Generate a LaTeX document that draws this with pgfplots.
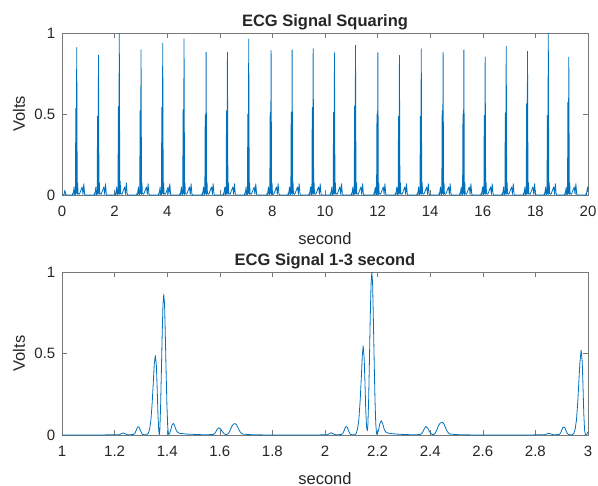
\documentclass[border=0pt]{standalone}
\usepackage{fontspec}
\setmainfont{Liberation Sans}
\usepackage{pgfplots}
\pgfplotsset{compat=1.18}
\definecolor{mblue}{RGB}{0,114,189}
\definecolor{axgray}{RGB}{120,120,120}
\definecolor{txt}{RGB}{38,38,38}
\pgfplotsset{
  myax/.style={
    scale only axis, width=526bp,
    axis line style={axgray, line width=0.6bp},
    tick style={axgray, line width=0.6bp},
    tick align=inside, major tick length=5bp,
    /pgf/number format/assume math mode=true,
    ticklabel style={font=\fontsize{15bp}{18bp}\selectfont, text=txt},
    xticklabel style={anchor=north, inner sep=0pt, yshift=-11bp},
    yticklabel style={anchor=east, inner sep=0pt, xshift=-6.5bp},
    ymin=0, ymax=1, ytick={0,0.5,1}, yticklabels={0,0.5,1},
    ylabel={Volts}, xlabel={second},
    every axis y label/.style={at={(axis description cs:-0.0818,0.5)}, rotate=90, anchor=center, inner sep=0pt, font=\fontsize{16.5bp}{19bp}\selectfont, text=txt},
    every axis x label/.style={at={(axis description cs:0.5,0)}, anchor=base, inner sep=0pt, yshift=-49bp, font=\fontsize{16.5bp}{19bp}\selectfont, text=txt},
    every axis title/.style={at={(axis description cs:0.5,1)}, anchor=base, inner sep=0pt, yshift=6.5bp, font=\fontsize{16.5bp}{19bp}\selectfont\bfseries, text=txt},
  },
  sig/.style={color=mblue, line width=0.8bp, no markers, line join=round},
}
\begin{document}
\begin{tikzpicture}
\begin{axis}[myax, height=162bp, at={(0,0)}, anchor=north west,
  title={ECG Signal Squaring},
  xmin=0, xmax=20, xtick={0,2,4,6,8,10,12,14,16,18,20},
  xticklabels={0,2,4,6,8,10,12,14,16,18,20}]
\addplot[sig] coordinates {
(0,0) (0.08,0.003) (0.11,0.03) (0.14,0.003) (0.2,0)
(0.400,0) (0.407,0.012) (0.420,0.001) (0.462,0.05) (0.480,0.002) (0.510,0.003) (0.525,0.536) (0.540,0.01) (0.560,0.91) (0.580,0.003) (0.596,0.075) (0.610,0.01) (0.660,0.004) (0.766,0.05) (0.797,0.004) (0.828,0.07) (0.860,0.005) (0.890,0)
(1.227,0) (1.234,0.012) (1.247,0.001) (1.289,0.05) (1.307,0.002) (1.337,0.003) (1.352,0.487) (1.367,0.01) (1.387,0.863) (1.407,0.003) (1.423,0.075) (1.437,0.01) (1.487,0.004) (1.593,0.05) (1.624,0.004) (1.655,0.07) (1.687,0.005) (1.717,0)
(2.018,0) (2.025,0.012) (2.038,0.001) (2.080,0.05) (2.098,0.002) (2.128,0.003) (2.143,0.546) (2.158,0.01) (2.178,1.0) (2.198,0.003) (2.214,0.085) (2.228,0.01) (2.278,0.004) (2.384,0.05) (2.415,0.004) (2.446,0.075) (2.478,0.005) (2.508,0)
(2.845,0) (2.852,0.012) (2.865,0.001) (2.907,0.05) (2.925,0.002) (2.955,0.003) (2.970,0.52) (2.985,0.01) (3.005,0.897) (3.025,0.003) (3.041,0.075) (3.055,0.01) (3.105,0.004) (3.211,0.05) (3.242,0.004) (3.273,0.07) (3.305,0.005) (3.335,0)
(3.670,0) (3.677,0.012) (3.690,0.001) (3.732,0.05) (3.750,0.002) (3.780,0.003) (3.795,0.542) (3.810,0.01) (3.830,0.938) (3.850,0.003) (3.866,0.075) (3.880,0.01) (3.930,0.004) (4.036,0.05) (4.067,0.004) (4.098,0.07) (4.130,0.005) (4.160,0)
(4.480,0) (4.487,0.012) (4.500,0.001) (4.542,0.05) (4.560,0.002) (4.590,0.003) (4.605,0.526) (4.620,0.01) (4.640,0.963) (4.660,0.003) (4.676,0.075) (4.690,0.01) (4.740,0.004) (4.846,0.05) (4.877,0.004) (4.908,0.07) (4.940,0.005) (4.970,0)
(5.320,0) (5.327,0.012) (5.340,0.001) (5.382,0.05) (5.400,0.002) (5.430,0.003) (5.445,0.49) (5.460,0.01) (5.480,0.882) (5.500,0.003) (5.516,0.075) (5.530,0.01) (5.580,0.004) (5.686,0.05) (5.717,0.004) (5.748,0.07) (5.780,0.005) (5.810,0)
(6.130,0) (6.137,0.012) (6.150,0.001) (6.192,0.05) (6.210,0.002) (6.240,0.003) (6.255,0.52) (6.270,0.01) (6.290,0.882) (6.310,0.003) (6.326,0.075) (6.340,0.01) (6.390,0.004) (6.496,0.05) (6.527,0.004) (6.558,0.07) (6.590,0.005) (6.620,0)
(6.940,0) (6.947,0.012) (6.960,0.001) (7.002,0.05) (7.020,0.002) (7.050,0.003) (7.065,0.5) (7.080,0.01) (7.100,0.963) (7.120,0.003) (7.136,0.075) (7.150,0.01) (7.200,0.004) (7.306,0.05) (7.337,0.004) (7.368,0.07) (7.400,0.005) (7.430,0)
(7.790,0) (7.797,0.012) (7.810,0.001) (7.852,0.05) (7.870,0.002) (7.900,0.003) (7.915,0.51) (7.930,0.01) (7.950,0.893) (7.970,0.003) (7.986,0.075) (8.000,0.01) (8.050,0.004) (8.156,0.05) (8.187,0.004) (8.218,0.07) (8.250,0.005) (8.280,0)
(8.590,0) (8.597,0.012) (8.610,0.001) (8.652,0.05) (8.670,0.002) (8.700,0.003) (8.715,0.51) (8.730,0.01) (8.750,0.895) (8.770,0.003) (8.786,0.075) (8.800,0.01) (8.850,0.004) (8.956,0.05) (8.987,0.004) (9.018,0.07) (9.050,0.005) (9.080,0)
(9.390,0) (9.397,0.012) (9.410,0.001) (9.452,0.05) (9.470,0.002) (9.500,0.003) (9.515,0.54) (9.530,0.01) (9.550,0.903) (9.570,0.003) (9.586,0.075) (9.600,0.01) (9.650,0.004) (9.756,0.05) (9.787,0.004) (9.818,0.07) (9.850,0.005) (9.880,0)
(10.200,0) (10.207,0.012) (10.220,0.001) (10.262,0.05) (10.280,0.002) (10.310,0.003) (10.325,0.51) (10.340,0.01) (10.360,0.878) (10.380,0.003) (10.396,0.075) (10.410,0.01) (10.460,0.004) (10.566,0.05) (10.597,0.004) (10.628,0.07) (10.660,0.005) (10.690,0)
(11.000,0) (11.007,0.012) (11.020,0.001) (11.062,0.05) (11.080,0.002) (11.110,0.003) (11.125,0.55) (11.140,0.01) (11.160,0.924) (11.180,0.003) (11.196,0.075) (11.210,0.01) (11.260,0.004) (11.366,0.05) (11.397,0.004) (11.428,0.07) (11.460,0.005) (11.490,0)
(11.850,0) (11.857,0.012) (11.870,0.001) (11.912,0.05) (11.930,0.002) (11.960,0.003) (11.975,0.5) (11.990,0.01) (12.010,0.878) (12.030,0.003) (12.046,0.075) (12.060,0.01) (12.110,0.004) (12.216,0.05) (12.247,0.004) (12.278,0.07) (12.310,0.005) (12.340,0)
(12.670,0) (12.677,0.012) (12.690,0.001) (12.732,0.05) (12.750,0.002) (12.780,0.003) (12.795,0.485) (12.810,0.01) (12.830,0.862) (12.850,0.003) (12.866,0.075) (12.880,0.01) (12.930,0.004) (13.036,0.05) (13.067,0.004) (13.098,0.07) (13.130,0.005) (13.160,0)
(13.500,0) (13.507,0.012) (13.520,0.001) (13.562,0.05) (13.580,0.002) (13.610,0.003) (13.625,0.485) (13.640,0.01) (13.660,0.903) (13.680,0.003) (13.696,0.075) (13.710,0.01) (13.760,0.004) (13.866,0.05) (13.897,0.004) (13.928,0.07) (13.960,0.005) (13.990,0)
(14.330,0) (14.337,0.012) (14.350,0.001) (14.392,0.05) (14.410,0.002) (14.440,0.003) (14.455,0.52) (14.470,0.01) (14.490,0.882) (14.510,0.003) (14.526,0.075) (14.540,0.01) (14.590,0.004) (14.696,0.05) (14.727,0.004) (14.758,0.07) (14.790,0.005) (14.820,0)
(15.120,0) (15.127,0.012) (15.140,0.001) (15.182,0.05) (15.200,0.002) (15.230,0.003) (15.245,0.5) (15.260,0.01) (15.280,0.895) (15.300,0.003) (15.316,0.075) (15.330,0.01) (15.380,0.004) (15.486,0.05) (15.517,0.004) (15.548,0.07) (15.580,0.005) (15.610,0)
(15.930,0) (15.937,0.012) (15.950,0.001) (15.992,0.05) (16.010,0.002) (16.040,0.003) (16.055,0.49) (16.070,0.01) (16.090,0.852) (16.110,0.003) (16.126,0.075) (16.140,0.01) (16.190,0.004) (16.296,0.05) (16.327,0.004) (16.358,0.07) (16.390,0.005) (16.420,0)
(16.730,0) (16.737,0.012) (16.750,0.001) (16.792,0.05) (16.810,0.002) (16.840,0.003) (16.855,0.507) (16.870,0.01) (16.890,0.918) (16.910,0.003) (16.926,0.075) (16.940,0.01) (16.990,0.004) (17.096,0.05) (17.127,0.004) (17.158,0.07) (17.190,0.005) (17.220,0)
(17.540,0) (17.547,0.012) (17.560,0.001) (17.602,0.05) (17.620,0.002) (17.650,0.003) (17.665,0.563) (17.680,0.01) (17.700,0.887) (17.720,0.003) (17.736,0.075) (17.750,0.01) (17.800,0.004) (17.906,0.05) (17.937,0.004) (17.968,0.07) (18.000,0.005) (18.030,0)
(18.330,0) (18.337,0.012) (18.350,0.001) (18.392,0.05) (18.410,0.002) (18.440,0.003) (18.455,0.49) (18.470,0.01) (18.490,1.0) (18.510,0.003) (18.526,0.075) (18.540,0.01) (18.590,0.004) (18.696,0.05) (18.727,0.004) (18.758,0.07) (18.790,0.005) (18.820,0)
(19.110,0) (19.117,0.012) (19.130,0.001) (19.172,0.05) (19.190,0.002) (19.220,0.003) (19.235,0.571) (19.250,0.01) (19.270,0.85) (19.290,0.003) (19.306,0.075) (19.320,0.01) (19.370,0.004) (19.476,0.05) (19.507,0.004) (19.538,0.07) (19.570,0.005) (19.600,0)
(19.920,0) (19.927,0.012) (19.940,0.001) (19.982,0.05) (20.000,0.02)
};
\end{axis}
\begin{axis}[myax, height=163bp, at={(0,-239bp)}, anchor=north west,
  title={ECG Signal 1-3 second},
  xmin=1, xmax=3, xtick={1,1.2,1.4,1.6,1.8,2,2.2,2.4,2.6,2.8,3},
  xticklabels={1,1.2,1.4,1.6,1.8,2,2.2,2.4,2.6,2.8,3}]
\addplot[sig] coordinates {
(1.000,0) (1.150,0) (1.200,0.002) (1.218,0.002) (1.226,0.008) (1.233,0.013) (1.240,0.008) (1.248,0.002) (1.262,0.002)
(1.273,0.004) (1.277,0.011) (1.282,0.028) (1.286,0.045) (1.290,0.051) (1.294,0.045) (1.298,0.028) (1.303,0.011) (1.307,0.003)
(1.315,0.001) (1.322,0.002) (1.328,0.01) (1.333,0.035) (1.338,0.09) (1.343,0.2) (1.347,0.32) (1.351,0.44) (1.355,0.487)
(1.359,0.42) (1.362,0.28) (1.365,0.12) (1.368,0.025) (1.370,0.002) (1.372,0.03) (1.375,0.18) (1.378,0.40) (1.381,0.62)
(1.384,0.80) (1.387,0.863) (1.390,0.80) (1.393,0.60) (1.396,0.38) (1.399,0.18) (1.402,0.05) (1.405,0.004) (1.408,0.006)
(1.413,0.028) (1.418,0.060) (1.423,0.072) (1.428,0.058) (1.434,0.030) (1.440,0.015) (1.448,0.010) (1.460,0.008) (1.480,0.005)
(1.500,0.004) (1.530,0.002) (1.560,0.002) (1.575,0.004) (1.580,0.008) (1.585,0.02) (1.590,0.035) (1.597,0.045) (1.604,0.035)
(1.610,0.02) (1.616,0.008) (1.622,0.003) (1.628,0.004) (1.634,0.012) (1.640,0.032) (1.646,0.054) (1.652,0.067) (1.658,0.070)
(1.664,0.062) (1.670,0.042) (1.676,0.022) (1.682,0.010) (1.690,0.005) (1.700,0.004) (1.720,0.002) (1.750,0.001) (1.780,0) (1.950,0)
(2.000,0.001) (2.009,0.002) (2.017,0.008) (2.024,0.014) (2.031,0.008) (2.039,0.002) (2.053,0.002) (2.064,0.004) (2.068,0.011)
(2.073,0.028) (2.077,0.046) (2.081,0.053) (2.085,0.046) (2.089,0.028) (2.094,0.011) (2.098,0.003) (2.106,0.001) (2.113,0.002)
(2.119,0.01) (2.124,0.04) (2.129,0.10) (2.134,0.22) (2.138,0.35) (2.142,0.49) (2.145,0.546) (2.149,0.47) (2.152,0.32)
(2.155,0.15) (2.158,0.05) (2.161,0.027) (2.163,0.06) (2.166,0.22) (2.169,0.46) (2.172,0.72) (2.175,0.92) (2.178,1.0)
(2.181,0.93) (2.184,0.70) (2.187,0.45) (2.190,0.22) (2.193,0.07) (2.196,0.006) (2.199,0.008) (2.204,0.034) (2.209,0.072)
(2.214,0.088) (2.219,0.071) (2.225,0.036) (2.231,0.018) (2.239,0.012) (2.251,0.009) (2.271,0.006) (2.291,0.004) (2.321,0.002)
(2.351,0.002) (2.363,0.004) (2.368,0.009) (2.373,0.022) (2.378,0.04) (2.384,0.053) (2.391,0.04) (2.397,0.022) (2.403,0.009)
(2.409,0.003) (2.414,0.004) (2.420,0.013) (2.426,0.035) (2.432,0.059) (2.438,0.073) (2.446,0.078) (2.452,0.068) (2.458,0.046)
(2.464,0.024) (2.470,0.011) (2.478,0.005) (2.488,0.004) (2.508,0.002) (2.540,0.001) (2.570,0) (2.780,0)
(2.820,0.002) (2.836,0.002) (2.844,0.007) (2.851,0.011) (2.858,0.007) (2.866,0.002) (2.880,0.002) (2.891,0.004) (2.895,0.011)
(2.900,0.028) (2.904,0.045) (2.908,0.050) (2.912,0.045) (2.916,0.028) (2.921,0.011) (2.925,0.003) (2.933,0.001) (2.940,0.002)
(2.946,0.01) (2.951,0.035) (2.956,0.09) (2.961,0.2) (2.965,0.32) (2.969,0.44) (2.974,0.52) (2.978,0.45) (2.981,0.30)
(2.984,0.13) (2.987,0.03) (2.990,0.003) (2.995,0.004) (3.000,0.02)
};
\end{axis}
\pgfresetboundingbox
\useasboundingbox (-62bp,33bp) rectangle (536bp,-453bp);
\end{tikzpicture}
\end{document}
